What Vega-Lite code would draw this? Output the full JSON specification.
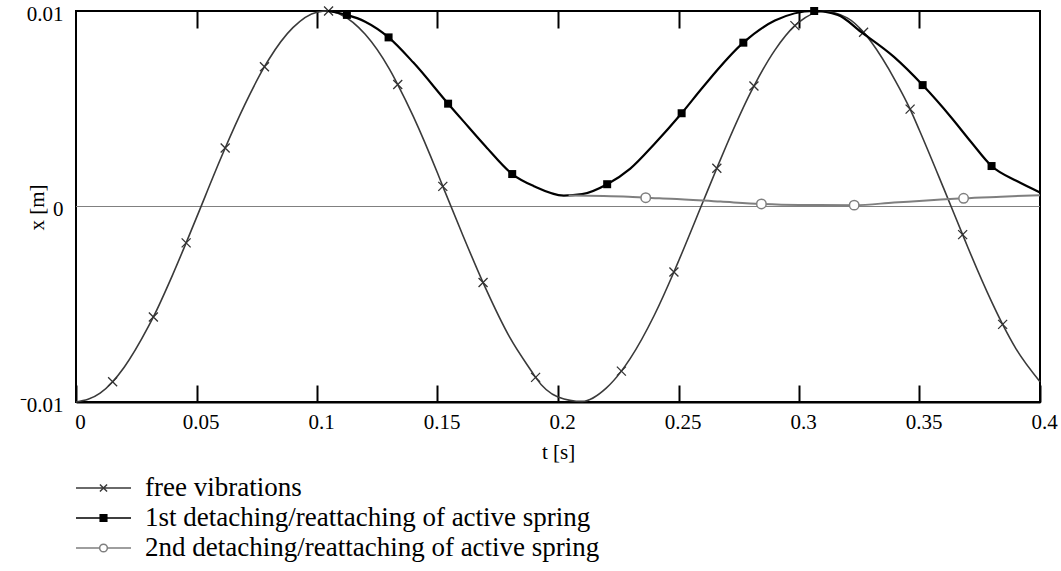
{
  "$schema": "https://vega.github.io/schema/vega-lite/v6.json",
  "width": 964,
  "height": 391,
  "autosize": {"type": "none"},
  "padding": {"left": 76, "top": 11, "right": 21, "bottom": 169},
  "background": "white",
  "config": {
    "view": {"stroke": "black", "strokeWidth": 2},
    "font": "Liberation Serif",
    "axis": {"labelFont": "Liberation Serif", "titleFont": "Liberation Serif", "labelColor": "black", "titleColor": "black", "titleFontWeight": "normal", "grid": false}
  },
  "datasets": {
    "free": [
      {"t": 0, "x": -0.01}, {"t": 0.01, "x": -0.00955}, {"t": 0.0152, "x": -0.00896, "m": 1},
      {"t": 0.02, "x": -0.00822}, {"t": 0.03, "x": -0.00615}, {"t": 0.0321, "x": -0.00565, "m": 1},
      {"t": 0.04, "x": -0.00352}, {"t": 0.0457, "x": -0.00186, "m": 1}, {"t": 0.05, "x": -0.00057},
      {"t": 0.06, "x": 0.00244}, {"t": 0.0619, "x": 0.00299, "m": 1}, {"t": 0.07, "x": 0.0052},
      {"t": 0.0782, "x": 0.00715, "m": 1}, {"t": 0.08, "x": 0.00752}, {"t": 0.09, "x": 0.00915},
      {"t": 0.1, "x": 0.00994}, {"t": 0.1048, "x": 0.01, "m": 1}, {"t": 0.11, "x": 0.00981},
      {"t": 0.12, "x": 0.00881}, {"t": 0.13, "x": 0.00704}, {"t": 0.1335, "x": 0.00624, "m": 1},
      {"t": 0.14, "x": 0.0046}, {"t": 0.15, "x": 0.00171}, {"t": 0.1522, "x": 0.00103, "m": 1},
      {"t": 0.16, "x": -0.00132}, {"t": 0.1689, "x": -0.00389, "m": 1}, {"t": 0.17, "x": -0.00419},
      {"t": 0.18, "x": -0.0067}, {"t": 0.19, "x": -0.00861}, {"t": 0.1907, "x": -0.00874, "m": 1},
      {"t": 0.2, "x": -0.00974}, {"t": 0.21, "x": -0.00997}, {"t": 0.22, "x": -0.00929},
      {"t": 0.2263, "x": -0.00842, "m": 1}, {"t": 0.23, "x": -0.00777}, {"t": 0.24, "x": -0.00555},
      {"t": 0.2481, "x": -0.00335, "m": 1}, {"t": 0.25, "x": -0.0028}, {"t": 0.26, "x": 0.00019},
      {"t": 0.2659, "x": 0.00196, "m": 1}, {"t": 0.27, "x": 0.00316}, {"t": 0.28, "x": 0.00585},
      {"t": 0.2813, "x": 0.00616, "m": 1}, {"t": 0.29, "x": 0.008}, {"t": 0.2983, "x": 0.00925, "m": 1},
      {"t": 0.3, "x": 0.00943}, {"t": 0.31, "x": 0.00999}, {"t": 0.32, "x": 0.00965},
      {"t": 0.3268, "x": 0.00891, "m": 1}, {"t": 0.33, "x": 0.00841}, {"t": 0.34, "x": 0.00643},
      {"t": 0.3461, "x": 0.00498, "m": 1}, {"t": 0.35, "x": 0.00389}, {"t": 0.36, "x": 0.00094},
      {"t": 0.3679, "x": -0.00144, "m": 1}, {"t": 0.37, "x": -0.00207}, {"t": 0.38, "x": -0.00489},
      {"t": 0.3845, "x": -0.00603, "m": 1}, {"t": 0.39, "x": -0.00727}, {"t": 0.4, "x": -0.00896}
    ],
    "first": [
      {"t": 0.1045, "x": 0.01}, {"t": 0.1124, "x": 0.0098, "m": 1}, {"t": 0.12, "x": 0.00945},
      {"t": 0.1297, "x": 0.00865, "m": 1}, {"t": 0.14, "x": 0.00736}, {"t": 0.1544, "x": 0.00526, "m": 1},
      {"t": 0.16, "x": 0.00447}, {"t": 0.17, "x": 0.00307}, {"t": 0.181, "x": 0.00166, "m": 1},
      {"t": 0.19, "x": 0.00104}, {"t": 0.2024, "x": 0.00056}, {"t": 0.21, "x": 0.00063},
      {"t": 0.2204, "x": 0.00114, "m": 1}, {"t": 0.23, "x": 0.00194}, {"t": 0.24, "x": 0.0032},
      {"t": 0.2513, "x": 0.00477, "m": 1}, {"t": 0.26, "x": 0.00609}, {"t": 0.2769, "x": 0.00838, "m": 1},
      {"t": 0.29, "x": 0.00951}, {"t": 0.3063, "x": 0.01, "m": 1}, {"t": 0.3161, "x": 0.0098},
      {"t": 0.3257, "x": 0.00893}, {"t": 0.3394, "x": 0.00765}, {"t": 0.3513, "x": 0.00621, "m": 1},
      {"t": 0.363, "x": 0.00458}, {"t": 0.3714, "x": 0.0033}, {"t": 0.3799, "x": 0.00207, "m": 1},
      {"t": 0.3904, "x": 0.0013}, {"t": 0.4, "x": 0.00072}
    ],
    "second": [
      {"t": 0.2044, "x": 0.00056}, {"t": 0.2293, "x": 0.0005}, {"t": 0.2364, "x": 0.00045, "m": 1},
      {"t": 0.2468, "x": 0.0004}, {"t": 0.2675, "x": 0.00025}, {"t": 0.2844, "x": 0.00013, "m": 1},
      {"t": 0.3, "x": 0.00008}, {"t": 0.3229, "x": 0.00007, "m": 1}, {"t": 0.3394, "x": 0.0002},
      {"t": 0.356, "x": 0.00033}, {"t": 0.3683, "x": 0.00042, "m": 1}, {"t": 0.3838, "x": 0.0005},
      {"t": 0.4, "x": 0.00058}
    ],
    "zero": [{"t": 0, "x": 0}]
  },
  "resolve": {"axis": {"x": "independent"}},
  "layer": [
    {
      "data": {"name": "zero"},
      "mark": {"type": "rule", "color": "#808080", "strokeWidth": 1},
      "encoding": {
        "y": {
          "field": "x", "type": "quantitative", "title": "x [m]",
          "scale": {"domain": [-0.01, 0.01], "nice": false, "zero": false},
          "axis": {
            "values": [-0.01, 0, 0.01], "ticks": false, "domain": false,
            "labelFontSize": 21, "labelPadding": 13, "labelOffset": 3,
            "labelExpr": "datum.value < 0 ? '\u207b0.01' : (datum.value > 0 ? '0.01' : '0')",
            "titleFontSize": 21, "titleAngle": -90, "titleX": -39, "titleY": 196,
            "titleAlign": "center", "titleBaseline": "middle"
          }
        }
      }
    },
    {
      "data": {"name": "free"},
      "mark": {"type": "line", "interpolate": "monotone", "color": "#3a3a3a", "strokeWidth": 1.6},
      "encoding": {
        "x": {
          "field": "t", "type": "quantitative", "title": "t [s]",
          "scale": {"domain": [0, 0.4], "nice": false, "zero": false},
          "axis": {
            "orient": "bottom", "values": [0, 0.05, 0.1, 0.15, 0.2, 0.25, 0.3, 0.35, 0.4],
            "format": ".2~f", "tickSize": -17, "tickWidth": 2, "tickColor": "black",
            "domainColor": "black", "domainWidth": 2,
            "labelFontSize": 21, "labelPadding": 26, "labelFlush": false, "labelOffset": 4,
            "titleFontSize": 21, "titlePadding": 9
          }
        },
        "y": {
          "field": "x", "type": "quantitative", "title": "x [m]",
          "axis": {
            "values": [-0.01, 0, 0.01], "ticks": false, "domain": false,
            "labelFontSize": 21, "labelPadding": 13, "labelOffset": 3,
            "labelExpr": "datum.value < 0 ? '\u207b0.01' : (datum.value > 0 ? '0.01' : '0')",
            "titleFontSize": 21, "titleAngle": -90, "titleX": -39, "titleY": 196,
            "titleAlign": "center", "titleBaseline": "middle"
          }
        }
      }
    },
    {
      "data": {"name": "free"},
      "transform": [{"filter": "datum.m == 1"}],
      "mark": {"type": "point", "shape": "M-1,-1L1,1M-1,1L1,-1", "size": 81, "filled": false, "stroke": "#333333", "strokeWidth": 1.3, "opacity": 1},
      "encoding": {
        "x": {
          "field": "t", "type": "quantitative", "title": null,
          "axis": {
            "orient": "top", "values": [0.05, 0.1, 0.15, 0.2, 0.25, 0.3, 0.35],
            "labels": false, "domain": false, "tickSize": -17, "tickWidth": 2, "tickColor": "black"
          }
        },
        "y": {
          "field": "x", "type": "quantitative", "title": "x [m]",
          "axis": {
            "values": [-0.01, 0, 0.01], "ticks": false, "domain": false,
            "labelFontSize": 21, "labelPadding": 13, "labelOffset": 3,
            "labelExpr": "datum.value < 0 ? '\u207b0.01' : (datum.value > 0 ? '0.01' : '0')",
            "titleFontSize": 21, "titleAngle": -90, "titleX": -39, "titleY": 196,
            "titleAlign": "center", "titleBaseline": "middle"
          }
        }
      }
    },
    {
      "data": {"name": "first"},
      "mark": {"type": "line", "interpolate": "monotone", "color": "black", "strokeWidth": 2.2},
      "encoding": {
        "x": {"field": "t", "type": "quantitative", "axis": null},
        "y": {
          "field": "x", "type": "quantitative", "title": "x [m]",
          "axis": {
            "values": [-0.01, 0, 0.01], "ticks": false, "domain": false,
            "labelFontSize": 21, "labelPadding": 13, "labelOffset": 3,
            "labelExpr": "datum.value < 0 ? '\u207b0.01' : (datum.value > 0 ? '0.01' : '0')",
            "titleFontSize": 21, "titleAngle": -90, "titleX": -39, "titleY": 196,
            "titleAlign": "center", "titleBaseline": "middle"
          }
        }
      }
    },
    {
      "data": {"name": "first"},
      "transform": [{"filter": "datum.m == 1"}],
      "mark": {"type": "point", "shape": "square", "size": 64, "filled": true, "color": "black", "opacity": 1},
      "encoding": {
        "x": {"field": "t", "type": "quantitative", "axis": null},
        "y": {
          "field": "x", "type": "quantitative", "title": "x [m]",
          "axis": {
            "values": [-0.01, 0, 0.01], "ticks": false, "domain": false,
            "labelFontSize": 21, "labelPadding": 13, "labelOffset": 3,
            "labelExpr": "datum.value < 0 ? '\u207b0.01' : (datum.value > 0 ? '0.01' : '0')",
            "titleFontSize": 21, "titleAngle": -90, "titleX": -39, "titleY": 196,
            "titleAlign": "center", "titleBaseline": "middle"
          }
        }
      }
    },
    {
      "data": {"name": "second"},
      "mark": {"type": "line", "interpolate": "monotone", "color": "#7f7f7f", "strokeWidth": 2},
      "encoding": {
        "x": {"field": "t", "type": "quantitative", "axis": null},
        "y": {
          "field": "x", "type": "quantitative", "title": "x [m]",
          "axis": {
            "values": [-0.01, 0, 0.01], "ticks": false, "domain": false,
            "labelFontSize": 21, "labelPadding": 13, "labelOffset": 3,
            "labelExpr": "datum.value < 0 ? '\u207b0.01' : (datum.value > 0 ? '0.01' : '0')",
            "titleFontSize": 21, "titleAngle": -90, "titleX": -39, "titleY": 196,
            "titleAlign": "center", "titleBaseline": "middle"
          }
        }
      }
    },
    {
      "data": {"name": "second"},
      "transform": [{"filter": "datum.m == 1"}],
      "mark": {"type": "point", "shape": "circle", "size": 90, "filled": true, "fill": "white", "stroke": "#7f7f7f", "strokeWidth": 1.5, "opacity": 1},
      "encoding": {
        "x": {"field": "t", "type": "quantitative", "axis": null},
        "y": {
          "field": "x", "type": "quantitative", "title": "x [m]",
          "axis": {
            "values": [-0.01, 0, 0.01], "ticks": false, "domain": false,
            "labelFontSize": 21, "labelPadding": 13, "labelOffset": 3,
            "labelExpr": "datum.value < 0 ? '\u207b0.01' : (datum.value > 0 ? '0.01' : '0')",
            "titleFontSize": 21, "titleAngle": -90, "titleX": -39, "titleY": 196,
            "titleAlign": "center", "titleBaseline": "middle"
          }
        }
      }
    },
    {
      "data": {"name": "free"},
      "transform": [{"filter": "datum.t < 0"}],
      "mark": {"type": "point", "filled": true, "strokeWidth": 1.5, "opacity": 1},
      "encoding": {
        "shape": {
          "field": "series", "type": "nominal", "title": null,
          "scale": {
            "domain": ["free vibrations", "1st detaching/reattaching of active spring", "2nd detaching/reattaching of active spring"],
            "range": [
              "M-1,0H1M-0.13,-0.13L0.13,0.13M-0.13,0.13L0.13,-0.13",
              "M-1,0H1M-0.12,-0.12H0.12V0.12H-0.12Z",
              "M-1,0H-0.14M0.14,0H1M0.14,0A0.14,0.14 0 1,1 -0.14,0A0.14,0.14 0 1,1 0.14,0Z"
            ]
          },
          "legend": {
            "orient": "none", "legendX": -1, "legendY": 462, "padding": 0, "rowPadding": 0,
            "symbolSize": 3025, "clipHeight": 30, "symbolStrokeWidth": 1.5,
            "labelFont": "Liberation Serif", "labelFontSize": 27, "labelColor": "black",
            "labelOffset": 13, "labelLimit": 1000, "labelBaseline": "middle"
          }
        },
        "stroke": {
          "field": "series", "type": "nominal", "title": null,
          "scale": {
            "domain": ["free vibrations", "1st detaching/reattaching of active spring", "2nd detaching/reattaching of active spring"],
            "range": ["#3a3a3a", "black", "#7f7f7f"]
          },
          "legend": {
            "orient": "none", "legendX": -1, "legendY": 462, "padding": 0, "rowPadding": 0,
            "symbolSize": 3025, "clipHeight": 30, "symbolStrokeWidth": 1.5,
            "labelFont": "Liberation Serif", "labelFontSize": 27, "labelColor": "black",
            "labelOffset": 13, "labelLimit": 1000, "labelBaseline": "middle"
          }
        },
        "fill": {
          "field": "series", "type": "nominal", "title": null,
          "scale": {
            "domain": ["free vibrations", "1st detaching/reattaching of active spring", "2nd detaching/reattaching of active spring"],
            "range": ["white", "black", "white"]
          },
          "legend": {
            "orient": "none", "legendX": -1, "legendY": 462, "padding": 0, "rowPadding": 0,
            "symbolSize": 3025, "clipHeight": 30, "symbolStrokeWidth": 1.5,
            "labelFont": "Liberation Serif", "labelFontSize": 27, "labelColor": "black",
            "labelOffset": 13, "labelLimit": 1000, "labelBaseline": "middle"
          }
        }
      }
    }
  ]
}
